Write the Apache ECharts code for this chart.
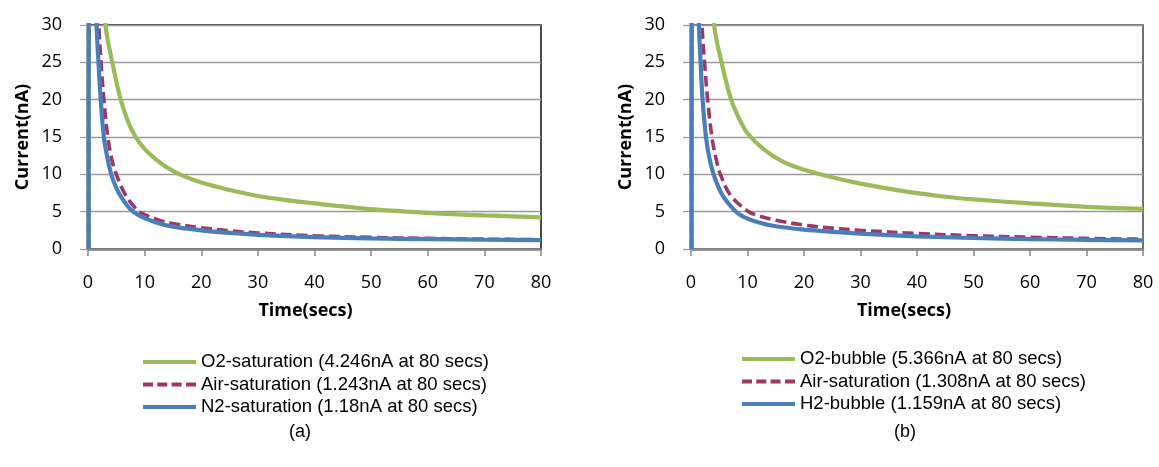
<!DOCTYPE html>
<html>
<head>
<meta charset="utf-8">
<script src="https://cdn.jsdelivr.net/npm/echarts@6/dist/echarts.min.js"></script>
<style>
  html, body { margin: 0; padding: 0; background: #fff; }
  #main { width: 1159px; height: 467px; }
</style>
</head>
<body>
<div id="main"></div>
<script>
// time (secs), current (nA)
var o2Sat = [[0.1,0],[0.15,60],[2.7,40],[3.1,30],[4.3,25],[5.6,20.5],[7,17.2],[8.4,15],[10,13.4],[12,12.0],[14,10.9],[16.2,10],[20,8.9],[25,7.9],[30,7.1],[35,6.55],[40,6.1],[50,5.35],[60,4.85],[70,4.5],[80,4.246]];
var airSatA = [[0.1,0],[0.15,40],[1.4,40],[1.9,30],[2.3,25],[2.8,20],[3.5,15],[4.2,12],[5,10],[6.5,7.4],[8.7,5.2],[10,4.6],[12,4.0],[15,3.4],[20,2.85],[25,2.45],[30,2.15],[40,1.78],[50,1.56],[60,1.42],[70,1.32],[80,1.243]];
var n2Sat = [[0.1,0],[0.15,40],[1.1,40],[1.5,30],[1.85,25],[2.25,20],[2.8,15],[3.35,12.5],[4.1,10],[5,8.2],[6,6.8],[7.4,5.4],[9,4.5],[12,3.55],[15,3.0],[20,2.5],[25,2.15],[30,1.9],[40,1.6],[50,1.43],[60,1.32],[70,1.24],[80,1.18]];

var o2Bub = [[0.1,0],[0.15,60],[3.6,40],[4.1,30],[5.4,25],[7.1,20],[8.5,17.5],[10,15.5],[12.8,13.4],[16,11.8],[20,10.6],[25,9.6],[30,8.75],[37.6,7.75],[45,7.0],[50,6.65],[60,6.1],[70,5.65],[80,5.366]];
var airSatB = [[0.1,0],[0.15,40],[1.5,40],[1.95,30],[2.4,25],[2.95,20],[3.7,15],[4.4,12.2],[5.2,10],[7,7.2],[10,5.1],[12,4.45],[15,3.85],[20,3.2],[25,2.8],[30,2.5],[40,2.08],[50,1.78],[60,1.57],[70,1.42],[80,1.308]];
var h2Bub = [[0.1,0],[0.15,40],[1.0,40],[1.4,30],[1.7,25],[2.05,20],[2.65,15],[3.2,12.4],[4.0,10],[5.5,7.3],[7.8,5.1],[9.3,4.3],[12,3.55],[15,3.05],[20,2.6],[25,2.3],[30,2.05],[40,1.7],[50,1.47],[60,1.33],[70,1.23],[80,1.159]];

var namesA = ['O2-saturation (4.246nA at 80 secs)', 'Air-saturation (1.243nA at 80 secs)', 'N2-saturation (1.18nA at 80 secs)'];
var namesB = ['O2-bubble (5.366nA at 80 secs)', 'Air-saturation (1.308nA at 80 secs) ', 'H2-bubble (1.159nA at 80 secs)'];

var green = '#9BBB59', plum = '#9E3768', blue = '#4A7EBB';
var axisFont = 'Open Sans';
var solidIcon = 'path://M0,0h53v4h-53z';
var dashIcon = 'path://M0,0h10v4h-10z M14.3,0h10v4h-10z M28.6,0h10v4h-10z M43,0h10v4h-10z';

function xAx(idx, shift) {
    return {
        gridIndex: idx, type: 'value', min: 0, max: 80, interval: 10,
        name: 'Time(secs)', nameLocation: 'middle', nameGap: 53,
        nameTextStyle: { fontFamily: axisFont, fontWeight: 'bold', fontSize: 18, color: '#000', padding: [0, shift, 0, 0] },
        axisLine: { onZero: false, lineStyle: { color: '#868686', width: 2.5 } },
        axisTick: { length: 7, lineStyle: { color: '#868686', width: 1.5 } },
        axisLabel: { margin: 25, fontFamily: axisFont, fontSize: 18, color: '#000' },
        splitLine: { show: false }
    };
}
function yAx(idx) {
    return {
        gridIndex: idx, type: 'value', min: 0, max: 30, interval: 5,
        name: 'Current(nA)', nameLocation: 'middle', nameGap: 56,
        nameTextStyle: { fontFamily: axisFont, fontWeight: 'bold', fontSize: 18, color: '#000' },
        axisLine: { show: true, lineStyle: { color: '#868686', width: 1.5 } },
        axisTick: { show: true, length: 8, lineStyle: { color: '#9a9a9a', width: 1.2 } },
        axisLabel: { margin: 26, fontFamily: axisFont, fontSize: 18, color: '#000' },
        splitLine: { lineStyle: { color: '#9a9a9a', width: 1.3 } }
    };
}
function ser(name, data, idx, color, dashed) {
    return {
        name: name, type: 'line', data: data, xAxisIndex: idx, yAxisIndex: idx,
        showSymbol: false, symbol: 'none', smooth: 0.35,
        lineStyle: { color: color, width: dashed ? 3.6 : 4.2, type: dashed ? [11, 5] : 'solid' },
        itemStyle: { color: color }
    };
}
function leg(names, left, top) {
    return {
        data: names.map(function (n, i) { return { name: n, icon: i === 1 ? dashIcon : solidIcon }; }),
        orient: 'vertical', left: left, top: top,
        itemWidth: 53, itemHeight: 4, itemGap: 2.5, padding: 0,
        textStyle: { fontFamily: 'Liberation Sans', fontSize: 18.5, color: '#000', lineHeight: 20 }
    };
}

var myChart = echarts.init(document.getElementById('main'));
myChart.setOption({
    animation: false,
    backgroundColor: '#fff',
    grid: [
        { left: 88, top: 25, width: 453, height: 224, show: true, borderColor: '#111', borderWidth: 1.5 },
        { left: 691, top: 25, width: 452, height: 224, show: true, borderColor: '#444', borderWidth: 1.5 }
    ],
    xAxis: [xAx(0, 18), xAx(1, 26)],
    yAxis: [yAx(0), yAx(1)],
    legend: [leg(namesA, 143, 352), leg(namesB, 742, 349)],
    series: [
        ser(namesA[0], o2Sat, 0, green, false),
        ser(namesA[1], airSatA, 0, plum, true),
        ser(namesA[2], n2Sat, 0, blue, false),
        ser(namesB[0], o2Bub, 1, green, false),
        ser(namesB[1], airSatB, 1, plum, true),
        ser(namesB[2], h2Bub, 1, blue, false)
    ],
    graphic: [
        { type: 'text', x: 300, y: 432, style: { text: '(a)', font: '18px "Liberation Sans"', fill: '#000', align: 'center', verticalAlign: 'middle' } },
        { type: 'text', x: 905, y: 432, style: { text: '(b)', font: '18px "Liberation Sans"', fill: '#000', align: 'center', verticalAlign: 'middle' } }
    ]
});
</script>
</body>
</html>
